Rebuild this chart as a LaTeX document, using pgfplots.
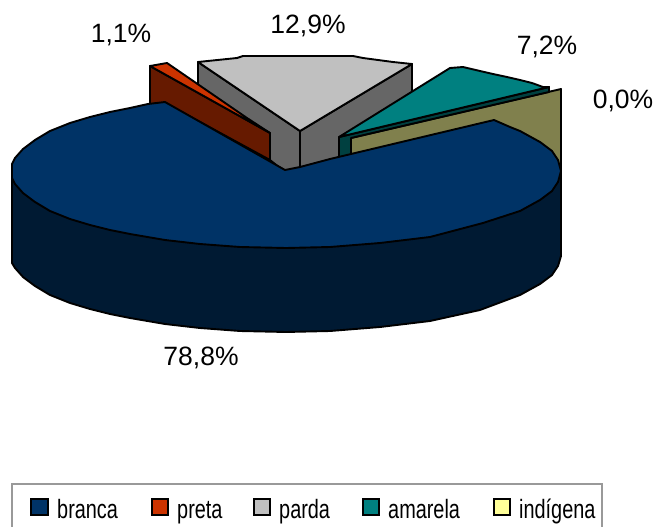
\documentclass[border=0pt]{standalone}
\usepackage{fontspec}
\setmainfont{Liberation Sans}
\usepackage{graphicx}
\usepackage{pgfplots}
\pgfplotsset{compat=1.18}

\definecolor{branca}{HTML}{003366}
\definecolor{brancaside}{HTML}{001A33}
\definecolor{preta}{HTML}{CC3300}
\definecolor{pretaside}{HTML}{661A00}
\definecolor{parda}{HTML}{C0C0C0}
\definecolor{pardaside}{HTML}{666666}
\definecolor{amarela}{HTML}{008080}
\definecolor{amarelaside}{HTML}{004040}
\definecolor{indigena}{HTML}{FFFF99}
\definecolor{indigenaside}{HTML}{80804D}

\pgfplotsset{
  face/.style={draw=black, line width=1.9bp, line join=round},
  swatch/.style={only marks, mark=square*, mark size=8.2bp,
    mark options={fill=#1, draw=black, line width=1.9bp}},
  legendtext/.style={only marks, mark=none, point meta=explicit symbolic,
    nodes near coords={\scalebox{0.75}[1]{\pgfplotspointmeta}},
    nodes near coords style={anchor=base west, inner sep=0pt, text=black}},
}

\begin{document}
\begin{tikzpicture}
\fontsize{26.6}{30}\selectfont
\begin{axis}[
    scale only axis, width=657bp, height=527bp,
    xmin=0, xmax=657, ymin=0, ymax=527,
    y dir=reverse,
    axis line style={draw=none}, xtick=\empty, ytick=\empty,
]
% parda
\addplot[face, fill=pardaside] coordinates {(198,62) (300,131) (300,168) (285,172) (270,160) (198,120)} --cycle;
\addplot[face, fill=pardaside] coordinates {(412,64) (300,131) (300,168) (345,158) (412,142)} --cycle;
\addplot[face, fill=parda] coordinates {(198,62) (237,58) (243,56) (353,56) (363,58) (393,62) (412,64) (300,131)} --cycle;

% indigena
\addplot[face, fill=indigenaside] coordinates {(351,138) (561,89) (561,180) (494,125) (351,156)} --cycle;

% amarela
\addplot[face, fill=amarelaside] coordinates {(339,137) (549,87) (549,92) (351,138) (351,155) (339,158)} --cycle;
\addplot[face, fill=amarela] coordinates {(339,137) (450,68) (463,67) (480,71) (493,74) (507,77) (520,80) (532,83) (543,87) (549,87)} --cycle;

% preta
\addplot[face, fill=pretaside] coordinates {(150,66) (270,133) (270,160) (165,103) (150,105)} --cycle;
\addplot[face, fill=preta] coordinates {(150,66) (167,63) (247,118) (270,133)} --cycle;

% branca
\addplot[face, fill=brancaside] coordinates {(12,171) (12,263) (15,268) (23,277) (35,286) (50,295) (70,303) (90,309) (110,314) (130,318) (165,324) (200,328) (240,331) (286,332) (330,331) (380,327) (430,321) (480,310) (520,295) (540,284) (552,275) (558,266) (561,256) (561,171)} --cycle;
\addplot[face, fill=branca] coordinates {(285,170) (165,102) (148,104) (130,108) (110,112) (90,117) (70,123) (50,131) (35,140) (23,149) (15,158) (12,164) (12,171) (12,178) (15,184) (23,193) (35,202) (50,211) (70,219) (90,225) (110,230) (130,234) (165,240) (200,244) (240,247) (286,248) (330,247) (380,243) (430,237) (483,223) (520,211) (540,200) (552,191) (558,182) (561,171) (558,160) (552,151) (540,142) (520,131) (510,127) (494,120) (330,159) (300,167)} --cycle;

% data labels
\addplot[only marks, mark=none, point meta=explicit symbolic,
    nodes near coords, nodes near coords style={anchor=base, inner sep=0pt, text=black}]
  coordinates {(201,365) [78,8\%] (121,43) [1,1\%] (308,34) [12,9\%] (547,55) [7,2\%] (623,108) [0,0\%]};

% legend
\addplot[draw=black!40, line width=1.6bp] coordinates {(12,530) (12,484) (602,484) (602,530)};
\addplot[swatch=branca] coordinates {(39.5,507)};
\addplot[swatch=preta] coordinates {(160,507)};
\addplot[swatch=parda] coordinates {(262,507)};
\addplot[swatch=amarela] coordinates {(371,507)};
\addplot[swatch=indigena] coordinates {(502,507)};
\addplot[legendtext] coordinates {(57,518) [branca] (177,518) [preta] (279,518) [parda] (388,518) [amarela] (519,518) [indígena]};
\end{axis}
\end{tikzpicture}
\end{document}
